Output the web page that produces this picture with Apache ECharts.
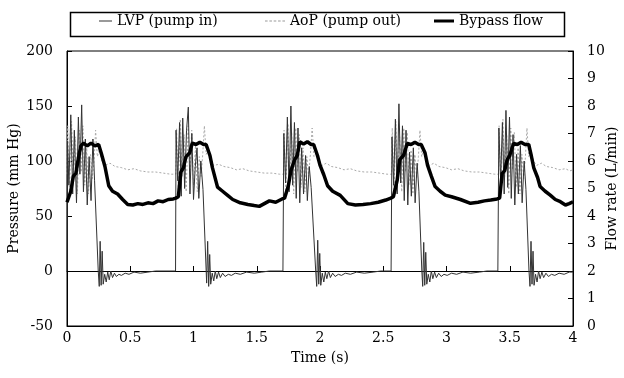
<!DOCTYPE html>
<html>
<head>
<meta charset="utf-8">
<script src="https://cdn.jsdelivr.net/npm/echarts@6/dist/echarts.min.js"></script>
<style>html,body{margin:0;padding:0;background:#fff;}#c{width:624px;height:378px;}</style>
</head>
<body>
<div id="c"></div>
<script>
// ---- data: [time (s), value] ----
var seriesNames = ['LVP (pump in)', 'AoP (pump out)', 'Bypass flow'];
var xTicks = [0, 0.5, 1, 1.5, 2, 2.5, 3, 3.5, 4];
var leftTicks = [-50, 0, 50, 100, 150, 200];
var rightTicks = [0,1,2,3,4,5,6,7,8,9,10];

var lvpCycle1 = [[0.000,0],[0.004,118],[0.015,78],[0.030,142],[0.045,70],[0.058,128],[0.075,62],[0.090,140],[0.102,88],[0.116,151],[0.130,72],[0.145,120],[0.160,60],[0.175,104],[0.190,64],[0.205,120],[0.218,82],[0.247,0],[0.255,-14],[0.262,27],[0.270,-13],[0.278,18],[0.286,-12],[0.298,-3],[0.310,-10],[0.322,-1],[0.334,-8],[0.346,0],[0.360,-6],[0.375,-2],[0.390,-5],[0.410,-3],[0.430,-4],[0.460,-2],[0.490,-3],[0.530,-1],[0.580,-2],[0.640,-1],[0.700,0]];
var lvpCycle2 = [[0.858,0],[0.862,128],[0.875,82],[0.890,135],[0.903,68],[0.915,139],[0.930,75],[0.945,128],[0.959,149],[0.972,70],[0.987,125],[1.000,65],[1.014,95],[1.028,112],[1.042,66],[1.058,100],[1.075,74],[1.104,-11],[1.112,27],[1.120,-14],[1.128,15],[1.136,-12],[1.148,-2],[1.160,-9],[1.172,0],[1.184,-7],[1.198,-1],[1.212,-6],[1.230,-2],[1.250,-5],[1.275,-3],[1.300,-4],[1.330,-2],[1.370,-3],[1.420,-1],[1.480,-2],[1.540,-1],[1.600,0],[1.707,0]];
var lvpCycle3 = [[1.710,0],[1.714,125],[1.728,80],[1.742,140],[1.756,72],[1.770,150],[1.784,78],[1.798,135],[1.812,66],[1.826,130],[1.840,62],[1.855,112],[1.870,70],[1.886,105],[1.900,64],[1.915,95],[1.930,76],[1.966,0],[1.974,-14],[1.982,28],[1.990,-12],[1.998,16],[2.006,-13],[2.018,-2],[2.030,-10],[2.042,-1],[2.054,-7],[2.068,0],[2.082,-6],[2.100,-2],[2.120,-5],[2.145,-3],[2.170,-4],[2.200,-2],[2.240,-3],[2.290,-1],[2.350,-2],[2.420,-1],[2.480,0],[2.562,0]];
var lvpCycle4 = [[2.565,0],[2.569,122],[2.582,78],[2.596,138],[2.610,70],[2.624,152],[2.638,80],[2.652,132],[2.666,64],[2.680,128],[2.694,60],[2.708,108],[2.722,68],[2.738,112],[2.752,62],[2.768,98],[2.782,72],[2.805,0],[2.812,-14],[2.820,26],[2.828,-13],[2.836,17],[2.844,-12],[2.856,-3],[2.868,-10],[2.880,0],[2.892,-7],[2.906,-1],[2.920,-6],[2.938,-2],[2.958,-5],[2.980,-3],[3.005,-4],[3.040,-2],[3.080,-3],[3.130,-1],[3.190,-2],[3.260,-1],[3.320,0],[3.406,0]];
var lvpCycle5 = [[3.410,0],[3.414,130],[3.428,82],[3.442,135],[3.456,70],[3.470,146],[3.484,76],[3.498,140],[3.512,66],[3.526,124],[3.540,60],[3.554,106],[3.568,70],[3.584,114],[3.598,62],[3.614,100],[3.628,74],[3.652,0],[3.660,-14],[3.668,27],[3.676,-12],[3.684,18],[3.692,-13],[3.704,-3],[3.716,-10],[3.728,0],[3.740,-7],[3.754,-1],[3.768,-6],[3.786,-2],[3.806,-5],[3.830,-3],[3.856,-4],[3.890,-2],[3.930,-3],[3.970,-1],[4.000,-1]];

var aopCycle1 = [[0.000,88],[0.006,132],[0.020,70],[0.036,136],[0.050,84],[0.066,122],[0.082,70],[0.098,128],[0.112,90],[0.126,132],[0.140,78],[0.156,112],[0.170,70],[0.186,106],[0.200,84],[0.214,100],[0.226,128],[0.240,104],[0.256,110],[0.275,100],[0.300,96],[0.340,98],[0.380,95],[0.430,94],[0.480,92],[0.530,93],[0.580,91],[0.640,90],[0.700,90],[0.760,89],[0.820,88],[0.860,88]];
var aopCycle2 = [[0.866,130],[0.880,74],[0.896,138],[0.910,86],[0.926,124],[0.942,72],[0.958,132],[0.972,92],[0.986,128],[1.000,78],[1.016,114],[1.030,72],[1.046,104],[1.060,86],[1.074,108],[1.086,132],[1.100,106],[1.116,110],[1.135,100],[1.160,96],[1.200,97],[1.240,95],[1.290,94],[1.340,92],[1.390,93],[1.440,91],[1.500,90],[1.560,89],[1.620,89],[1.680,88],[1.712,88]];
var aopCycle3 = [[1.716,128],[1.730,72],[1.746,134],[1.760,88],[1.776,126],[1.792,70],[1.808,130],[1.822,90],[1.836,124],[1.850,76],[1.866,112],[1.880,72],[1.896,104],[1.910,86],[1.924,106],[1.938,130],[1.952,104],[1.970,108],[1.990,100],[2.015,96],[2.050,98],[2.090,95],[2.140,94],[2.190,92],[2.240,93],[2.290,91],[2.350,90],[2.410,90],[2.470,89],[2.530,88],[2.567,88]];
var aopCycle4 = [[2.571,130],[2.585,74],[2.600,136],[2.614,86],[2.630,122],[2.646,72],[2.662,130],[2.676,90],[2.690,126],[2.704,78],[2.720,110],[2.734,70],[2.750,106],[2.764,84],[2.778,104],[2.790,128],[2.804,104],[2.822,110],[2.842,100],[2.866,96],[2.900,98],[2.940,95],[2.990,94],[3.040,92],[3.090,93],[3.140,91],[3.200,90],[3.260,90],[3.320,89],[3.380,88],[3.412,88]];
var aopCycle5 = [[3.416,132],[3.430,72],[3.446,138],[3.460,86],[3.476,124],[3.492,70],[3.508,130],[3.522,92],[3.536,126],[3.550,76],[3.566,112],[3.580,70],[3.596,106],[3.610,84],[3.624,104],[3.636,130],[3.650,104],[3.668,110],[3.688,100],[3.712,96],[3.750,98],[3.790,95],[3.840,94],[3.890,92],[3.940,93],[3.975,91],[4.000,92]];

var flowCycle1 = [[0.00,4.5],[0.01,4.45],[0.03,4.9],[0.05,5.45],[0.07,5.55],[0.09,6.1],[0.11,6.55],[0.13,6.65],[0.16,6.55],[0.19,6.65],[0.22,6.55],[0.25,6.6],[0.27,6.3],[0.30,5.8],[0.33,5.1],[0.36,4.9],[0.40,4.8],[0.44,4.6],[0.48,4.42],[0.52,4.4],[0.56,4.45],[0.60,4.42],[0.64,4.48],[0.68,4.45],[0.72,4.55],[0.76,4.52],[0.80,4.6],[0.84,4.62],[0.86,4.65]];
var flowCycle2 = [[0.88,4.7],[0.90,5.6],[0.92,5.75],[0.94,6.15],[0.97,6.3],[0.99,6.65],[1.02,6.6],[1.05,6.68],[1.08,6.6],[1.10,6.6],[1.13,6.2],[1.15,5.75],[1.19,5.05],[1.23,4.9],[1.27,4.75],[1.31,4.6],[1.37,4.48],[1.43,4.42],[1.48,4.38],[1.52,4.35],[1.56,4.45],[1.60,4.55],[1.65,4.5],[1.70,4.62]];
var flowCycle3 = [[1.72,4.65],[1.75,5.1],[1.77,5.65],[1.80,6.05],[1.82,6.2],[1.84,6.7],[1.87,6.62],[1.90,6.7],[1.93,6.6],[1.95,6.6],[1.98,6.2],[2.00,5.85],[2.03,5.5],[2.06,5.1],[2.10,4.9],[2.16,4.75],[2.22,4.45],[2.28,4.4],[2.34,4.42],[2.40,4.45],[2.46,4.5],[2.52,4.58],[2.56,4.65]];
var flowCycle4 = [[2.58,4.7],[2.61,5.3],[2.63,6.05],[2.66,6.2],[2.69,6.64],[2.72,6.6],[2.75,6.68],[2.78,6.6],[2.80,6.6],[2.83,6.3],[2.85,5.85],[2.88,5.45],[2.91,5.07],[2.95,4.9],[2.99,4.76],[3.04,4.7],[3.11,4.6],[3.19,4.46],[3.25,4.5],[3.30,4.55],[3.35,4.58],[3.40,4.62]];
var flowCycle5 = [[3.42,4.65],[3.44,5.55],[3.46,5.65],[3.48,6.05],[3.50,6.2],[3.53,6.64],[3.56,6.6],[3.59,6.68],[3.62,6.6],[3.65,6.6],[3.67,6.2],[3.69,5.75],[3.72,5.4],[3.74,5.07],[3.78,4.9],[3.82,4.76],[3.86,4.6],[3.90,4.52],[3.94,4.4],[3.97,4.45],[4.00,4.52]];

var lvpData = [].concat(lvpCycle1, lvpCycle2, lvpCycle3, lvpCycle4, lvpCycle5);
var aopData = [].concat(aopCycle1, aopCycle2, aopCycle3, aopCycle4, aopCycle5);
var flowData = [].concat(flowCycle1, flowCycle2, flowCycle3, flowCycle4, flowCycle5);

var FONT = 'DejaVu Serif';
var chart = echarts.init(document.getElementById('c'), null, {renderer: 'canvas'});
var txt = {fontFamily: FONT, fontSize: 14, color: '#000'};
var legTxt = {fontFamily: FONT, fontSize: 14, color: '#000'};

function fmt(v) { return String(v); }

var dashIcon = 'path://M0,0h3v1h-3z M5,0h3v1h-3z M10,0h3v1h-3z M15,0h3v1h-3z M20,0h3v1h-3z';

var option = {
  animation: false,
  backgroundColor: '#fff',
  grid: {left: 67, right: 51, top: 51, bottom: 52, show: true, borderColor: '#000', borderWidth: 1,
         backgroundColor: 'transparent', outerBoundsMode: 'none', containLabel: false},
  graphic: [{type: 'rect', left: 68, top: 10, shape: {width: 494, height: 24}, style: {fill: 'none', stroke: '#000', lineWidth: 1.5}, z: 10}],
  legend: [
    {data: [seriesNames[0]], left: 99, top: 14, padding: 0, icon: 'rect', itemWidth: 13, itemHeight: 1,
     itemStyle: {color: '#333'}, textStyle: legTxt},
    {data: [seriesNames[1]], left: 265, top: 14, padding: 0, icon: dashIcon, itemWidth: 20, itemHeight: 1,
     itemStyle: {color: '#999'}, textStyle: legTxt},
    {data: [seriesNames[2]], left: 434, top: 14, padding: 0, icon: 'rect', itemWidth: 20, itemHeight: 3,
     itemStyle: {color: '#000'}, textStyle: legTxt}
  ],
  xAxis: [
    {type: 'value', min: xTicks[0], max: xTicks[xTicks.length-1], interval: 0.5, position: 'bottom',
     axisLine: {onZero: false, lineStyle: {color: '#000'}}, axisTick: {show: false}, splitLine: {show: false},
     axisLabel: Object.assign({margin: 5, formatter: fmt}, txt),
     name: 'Time (s)', nameLocation: 'middle', nameGap: 25, nameTextStyle: txt},
    {type: 'value', min: xTicks[0], max: xTicks[xTicks.length-1], interval: 0.5, position: 'bottom',
     axisLine: {show: true, onZero: true, onZeroAxisIndex: 0, lineStyle: {color: '#000', width: 1}},
     axisTick: {show: true, inside: true, length: 5, lineStyle: {color: '#000'}},
     axisLabel: {show: false}, splitLine: {show: false}}
  ],
  yAxis: [
    {type: 'value', min: leftTicks[0], max: leftTicks[leftTicks.length-1], interval: 50, position: 'left',
     axisLine: {show: true, onZero: false, lineStyle: {color: '#000'}}, axisTick: {show: true, inside: true, length: 5, lineStyle: {color: '#000'}},
     minorTick: {show: false}, splitLine: {show: false}, axisLabel: Object.assign({margin: 14}, txt),
     name: 'Pressure (mm Hg)', nameLocation: 'middle', nameRotate: 90, nameGap: 46, nameMoveOverlap: false, nameTextStyle: txt},
    {type: 'value', min: rightTicks[0], max: rightTicks[rightTicks.length-1], interval: 1, position: 'right',
     axisLine: {show: true, onZero: false, lineStyle: {color: '#000'}}, axisTick: {show: true, inside: true, length: 5, lineStyle: {color: '#000'}},
     minorTick: {show: false}, splitLine: {show: false}, axisLabel: Object.assign({margin: 14}, txt),
     name: 'Flow rate (L/min)', nameLocation: 'middle', nameRotate: 90, nameGap: 32, nameMoveOverlap: false, nameTextStyle: txt}
  ],
  series: [
    {name: seriesNames[0], type: 'line', xAxisIndex: 0, yAxisIndex: 0, data: lvpData, symbol: 'none',
     lineStyle: {color: '#333', width: 1}, itemStyle: {color: '#333'}, z: 3},
    {name: seriesNames[1], type: 'line', xAxisIndex: 0, yAxisIndex: 0, data: aopData, symbol: 'none',
     lineStyle: {color: '#aaa', width: 1, type: [2, 2]}, itemStyle: {color: '#aaa'}, z: 2},
    {name: seriesNames[2], type: 'line', xAxisIndex: 0, yAxisIndex: 1, data: flowData, symbol: 'none',
     lineStyle: {color: '#000', width: 3.5}, itemStyle: {color: '#000'}, z: 4}
  ]
};
chart.setOption(option);
</script>
</body>
</html>
